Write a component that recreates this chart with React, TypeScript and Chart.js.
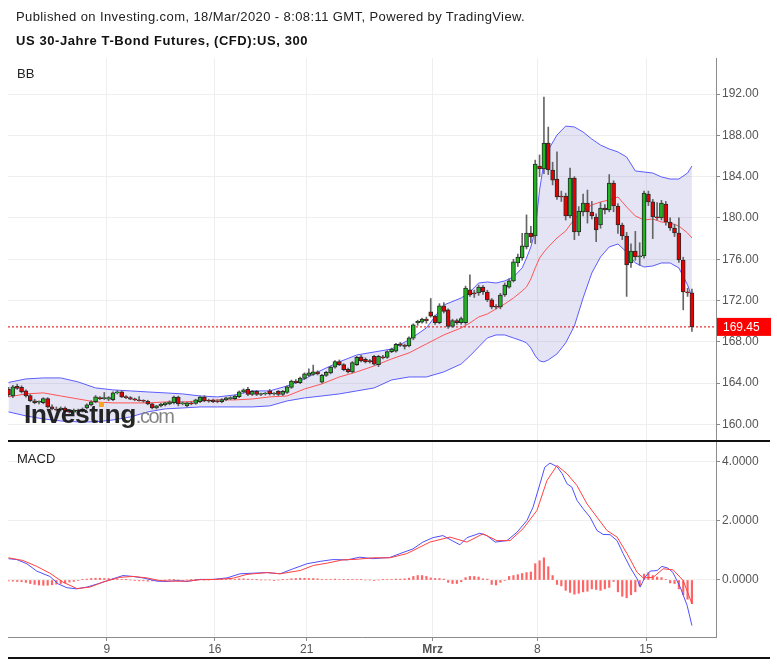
import React, { useEffect, useRef } from "react";
import { Chart, registerables } from "chart.js";

Chart.register(...registerables);

const FONT = '"Liberation Sans", Arial, Helvetica, sans-serif';

// ---- Candles (300-minute bars), index 0..157 ----
const opens = [
  163.44, 162.77, 163.7, 163.6, 163.25, 162.8, 162.3, 162.15, 162.1, 162.5,
  161.7, 161.5, 161.4, 161.6, 161.3, 161.2, 161.4, 161.3, 161.6, 161.9,
  162.2, 162.6, 162.5, 162.45, 162.4, 163.06, 163.15, 162.67, 162.6, 162.45,
  162.38, 162.3, 162.25, 161.99, 161.6, 161.8, 161.9, 162.0, 162.1, 162.65,
  162.0, 161.8, 162.1, 162.05, 162.2, 162.65, 162.35, 162.35, 162.3, 162.2,
  162.4, 162.5, 162.5, 162.7, 163.15, 163.4, 162.9, 163.2, 162.9, 162.95,
  163.25, 162.95, 163.2, 162.9, 163.1, 163.6, 164.2, 164.05, 164.45, 164.75,
  164.85, 165.1, 164.1, 164.75, 165.0, 165.55, 166.1, 165.8, 165.35, 165.1,
  165.8, 166.55, 166.3, 166.2, 166.6, 165.8, 166.55, 166.5, 167.05, 167.1,
  167.8, 167.7, 167.6, 168.35, 169.85, 169.9, 170.2, 170.9, 170.5, 169.85,
  171.5, 171.1, 169.5, 170.05, 169.85, 169.85, 173.05, 172.7, 172.75, 173.3,
  172.83, 172.06, 171.4, 171.38, 172.54, 173.3, 173.9, 175.64, 176.12, 177.2,
  178.54, 178.25, 185.03, 184.74, 187.26, 184.64, 183.77, 182.13, 182.13, 180.19,
  183.87, 178.64, 180.58, 181.45, 180.58, 180.09, 179.32, 180.96, 180.77, 183.38,
  181.16, 179.32, 178.25, 175.64, 176.8, 176.22, 176.32, 182.32, 181.55, 180.09,
  180.0, 181.35, 179.61, 179.03, 178.54, 175.93, 172.83, 172.74,
];
const highs = [
  163.6, 163.8, 163.9, 163.75, 163.35, 162.9, 162.45, 162.3, 162.6, 162.6,
  161.9, 161.7, 161.7, 161.7, 161.4, 161.5, 161.5, 161.6, 162.0, 162.3,
  162.8, 162.7, 163.1, 162.7, 163.15, 163.3, 163.25, 162.8, 162.7, 162.55,
  162.7, 162.4, 162.35, 162.05, 161.85, 162.05, 162.15, 162.3, 162.75, 162.75,
  162.2, 162.15, 162.2, 162.45, 162.75, 162.8, 162.45, 162.45, 162.4, 162.5,
  162.65, 162.7, 162.85, 163.25, 163.45, 163.6, 163.3, 163.3, 163.05, 163.1,
  163.4, 163.1, 163.3, 163.3, 163.75, 164.3, 164.35, 164.6, 165.0, 165.4,
  165.75, 165.2, 164.85, 165.15, 165.65, 166.2, 166.25, 165.9, 165.45, 166.1,
  166.6, 166.7, 166.45, 166.3, 166.7, 166.7, 166.7, 167.15, 167.4, 167.85,
  167.95, 167.8, 168.5, 169.75, 170.1, 170.3, 170.4, 172.2, 170.6, 171.7,
  171.8, 171.2, 170.2, 170.2, 170.4, 173.4, 174.5, 173.0, 173.5, 173.45,
  173.0, 172.2, 171.6, 172.7, 173.7, 174.1, 176.0, 176.5, 178.5, 180.3,
  179.2, 185.6, 186.1, 191.7, 188.8, 185.4, 186.4, 182.6, 182.4, 184.84,
  184.0, 181.1, 182.3, 182.7, 181.6, 180.4, 181.5, 181.3, 184.2, 183.6,
  181.4, 179.5, 178.6, 177.5, 178.7, 177.6, 182.6, 182.6, 181.8, 181.5,
  181.7, 181.6, 180.0, 179.4, 180.0, 176.2, 173.2, 173.1,
];
const lows = [
  162.7, 162.6, 163.4, 163.05, 162.65, 162.2, 162.0, 162.0, 162.0, 161.6,
  161.4, 161.3, 161.3, 161.2, 161.1, 161.1, 161.2, 161.2, 161.5, 161.8,
  162.1, 162.4, 162.4, 162.3, 162.3, 162.95, 162.6, 162.5, 162.4, 162.3,
  162.25, 162.15, 161.9, 161.5, 161.5, 161.7, 161.8, 161.9, 162.0, 161.8,
  161.9, 161.7, 161.9, 161.95, 162.1, 162.2, 162.15, 162.1, 162.1, 162.1,
  162.3, 162.4, 162.4, 162.6, 163.05, 162.8, 162.8, 162.8, 162.8, 162.85,
  162.85, 162.85, 162.8, 162.8, 163.0, 163.5, 163.95, 163.95, 164.35, 164.65,
  164.75, 164.8, 164.0, 164.65, 164.9, 165.45, 165.7, 165.2, 165.0, 165.0,
  165.7, 166.05, 165.95, 165.95, 165.75, 165.6, 166.35, 166.4, 166.95, 167.0,
  167.55, 167.3, 167.5, 168.2, 169.6, 169.8, 169.8, 170.4, 169.7, 169.75,
  170.8, 169.3, 169.4, 169.7, 169.7, 169.7, 172.4, 172.3, 172.5, 172.6,
  171.9, 171.2, 171.2, 171.2, 172.4, 173.2, 173.8, 175.3, 175.9, 177.0,
  177.6, 177.5, 184.0, 184.3, 184.2, 183.2, 181.8, 181.6, 179.8, 180.0,
  177.9, 178.3, 180.2, 179.5, 179.9, 177.7, 179.0, 180.4, 180.6, 180.6,
  178.5, 177.9, 172.4, 175.2, 175.9, 175.4, 176.1, 181.2, 178.0, 179.8,
  179.8, 179.3, 178.8, 178.2, 175.7, 171.1, 172.4, 169.0,
];
const closes = [
  162.86, 163.64, 163.5, 163.15, 162.77, 162.3, 162.1, 162.2, 162.5, 161.7,
  161.5, 161.4, 161.6, 161.3, 161.2, 161.4, 161.3, 161.5, 161.9, 162.2,
  162.67, 162.5, 162.55, 162.6, 163.06, 163.15, 162.67, 162.6, 162.45, 162.38,
  162.3, 162.25, 161.99, 161.6, 161.8, 161.97, 162.1, 162.2, 162.65, 161.99,
  162.1, 162.1, 162.0, 162.38, 162.65, 162.28, 162.25, 162.2, 162.2, 162.4,
  162.57, 162.6, 162.75, 163.15, 163.35, 162.9, 163.2, 162.9, 162.95, 163.0,
  162.95, 163.0, 162.9, 163.2, 163.65, 164.2, 164.05, 164.5, 164.9, 165.0,
  165.1, 164.9, 164.75, 165.05, 165.55, 166.1, 165.8, 165.3, 165.1, 166.0,
  166.5, 166.15, 166.05, 166.05, 165.85, 166.6, 166.45, 167.05, 167.3, 167.75,
  167.65, 167.55, 168.4, 169.65, 170.0, 170.2, 170.05, 170.5, 169.85, 171.5,
  170.95, 169.5, 170.05, 169.85, 170.25, 173.2, 172.55, 172.65, 173.3, 172.85,
  172.06, 171.38, 171.35, 172.54, 173.51, 173.9, 175.74, 176.22, 177.29, 178.54,
  178.16, 185.22, 184.74, 187.26, 184.64, 183.67, 182.03, 182.03, 180.19, 183.87,
  178.64, 180.67, 181.45, 180.58, 180.19, 178.83, 180.96, 180.77, 183.38, 181.16,
  179.32, 178.25, 175.45, 176.8, 176.22, 176.32, 182.42, 181.55, 180.09, 180.0,
  181.45, 179.61, 179.03, 178.54, 175.93, 172.83, 172.74, 169.45,
];

// ---- Bollinger Bands, read at these bar indices ----
const bbIdx = [
  0, 4, 8, 12, 16, 20, 24, 28, 32, 36, 40, 44, 48, 52, 56, 60, 64, 68, 72, 76, 80, 84, 88, 92, 96, 100, 104,
  106, 108, 110, 112, 114, 116, 118,
  119, 120, 121, 122, 123, 124,
  126, 128, 130, 132, 134, 136, 138, 140, 142, 144, 146, 148, 150, 152, 154, 156,
  157,
];
const bbUpper = [
  164.07, 164.41, 164.51, 164.51, 164.12, 163.54, 163.35, 163.25, 163.15, 163.06, 162.96, 162.76, 162.67, 162.86, 163.25, 163.25, 163.73, 164.41, 165.28, 166.06, 166.73, 167.02, 167.31, 168.19, 169.35, 171.57, 172.25,
  172.83, 173.7, 173.8, 173.7, 173.9, 174.28, 175.16,
  176.12, 177.19, 178.83, 182.71, 185.42, 186.58,
  188.03, 188.9, 188.81, 188.32, 187.64, 187.06, 186.68, 186.39, 185.9, 184.55, 184.45, 184.35, 183.97, 183.77, 183.77, 184.35,
  185.03,
];
const bbMiddle = [
  162.67, 162.96, 163.06, 162.76, 162.47, 162.18, 162.09, 162.09, 162.09, 162.18, 162.18, 162.28, 162.38, 162.38, 162.47, 162.67, 162.76, 163.44, 163.93, 164.6, 165.09, 165.67, 166.35, 166.93, 167.8, 168.67, 169.35,
  169.83, 170.41, 170.7, 171.19, 171.67, 172.25, 172.93,
  173.32, 174.09, 175.16, 176.12, 176.7, 177.19,
  178.06, 178.74, 179.9, 180.77, 181.25, 181.55, 181.74, 182.03, 181.06, 180.19, 179.8, 179.9, 179.61, 179.51, 179.22, 178.54,
  178.06,
];
const bbLower = [
  161.22, 160.83, 160.54, 160.34, 160.25, 160.25, 160.44, 160.73, 161.22, 161.51, 161.6, 161.7, 161.7, 161.7, 161.7, 161.8, 162.28, 162.57, 162.76, 162.96, 163.25, 163.54, 164.31, 164.6, 164.6, 165.09, 165.86,
  166.64, 167.51, 168.38, 168.67, 168.67, 168.38, 168.09,
  167.9, 167.41, 166.64, 166.15, 166.06, 166.25,
  166.83, 167.9, 169.54, 172.25, 174.67, 176.22, 177.19, 177.48, 176.7, 175.64, 175.25, 175.35, 175.64, 175.64, 175.16, 173.51,
  172.35,
];

// ---- MACD ----
const macdX = [
  0, 1.9, 4.2, 6.5, 9.5, 11.4, 13.4, 15.7, 18, 21, 24, 26.3, 28.6, 30.9, 34.1,
  36.4, 38.7, 41, 44, 47, 50.2, 53.2, 56.2, 59.4, 62.4, 65.4, 68.6, 71.6, 74.5, 77.8,
  80.7, 83.7, 87.6, 89.9, 92.9, 95.2, 97.5, 99.8, 101.9, 103.7, 105.3, 108.3, 109.9, 111.8, 114.5,
  116.8, 119.1, 120.5, 122.1, 123.2, 124.4, 126, 127.2, 128.3, 129.4, 130.6, 132, 133.6, 135.2, 136.6,
  138.2, 139.8, 141.2, 142.8, 144.4, 145.1, 146.2, 147.4, 149, 150.1, 151.5, 152.6, 154.3, 155.9, 157,
];
const macdLine = [
  0.72, 0.69, 0.55, 0.3, 0.12, -0.13, -0.26, -0.3, -0.24, -0.11, 0.04, 0.15, 0.12, 0.07, -0.04,
  -0.05, -0.02, -0.05, 0.02, 0.02, 0.07, 0.21, 0.23, 0.25, 0.21, 0.38, 0.55, 0.63, 0.69, 0.68,
  0.77, 0.72, 0.76, 0.89, 1.05, 1.28, 1.43, 1.5, 1.33, 1.19, 1.43, 1.58, 1.5, 1.28, 1.33,
  1.61, 2.01, 2.46, 3.25, 3.81, 3.95, 3.83, 3.59, 3.25, 3.14, 2.69, 2.41, 2.12, 1.67, 1.54,
  1.53, 1.33, 0.89, 0.43, 0.04, -0.24, 0.09, 0.3, 0.32, 0.46, 0.4, 0.26, -0.24, -0.86, -1.54,
];
const signalX = [
  0, 3.3, 6.5, 9.5, 12.5, 15.7, 18.7, 21.7, 25.6, 28.6, 31.8, 34.8, 37.8, 41, 44,
  47.9, 51.6, 54.8, 59.4, 62.4, 67, 70, 73.2, 76.8, 80.1, 83.7, 87.6, 91.5, 96.8, 101.4,
  105.3, 109, 112.2, 115.2, 118.2, 121.4, 123.7, 126, 128.3, 130.6, 132.9, 135.2, 137.5, 139.8, 142.1,
  144.4, 145.8, 148.1, 150.4, 152.7, 155, 157,
];
const signalLine = [
  0.75, 0.66, 0.46, 0.23, -0.07, -0.29, -0.24, -0.07, 0.09, 0.12, 0.07, -0.02, -0.04, -0.04, 0.01,
  0.02, 0.06, 0.19, 0.25, 0.21, 0.32, 0.49, 0.57, 0.68, 0.7, 0.75, 0.75, 0.89, 1.28, 1.45,
  1.28, 1.56, 1.33, 1.33, 1.73, 2.35, 3.36, 3.87, 3.59, 3.19, 2.57, 2.12, 1.67, 1.45, 0.89,
  0.26, 0.07, 0.09, 0.38, 0.34, -0.02, -0.8,
];
const histogram = [
  -0.03, -0.04, -0.05, -0.06, -0.08,
  -0.12, -0.15, -0.17, -0.18, -0.18, -0.16,
  -0.14, -0.12, -0.1, -0.07, -0.05,
  -0.02, 0.01,
  0.03, 0.05, 0.06, 0.06, 0.05, 0.05, 0.04, 0.03, 0.02,
  0.01, 0, -0.01,
  -0.03, -0.03, -0.04, -0.03, -0.02,
  -0.01, 0, 0.01, 0.01, 0, -0.01, 0, 0.01, 0.01, 0.01, 0, 0, 0.01, 0.01, 0.02, 0.02, 0.02, 0.02,
  0.04, 0.04, 0.03, 0.02,
  0.01, 0, 0, 0, -0.01, 0, 0.01, 0.02,
  0.04, 0.05, 0.06, 0.06, 0.05, 0.05, 0.04,
  0.02, 0.02, 0.02, 0.03, 0.02, 0.01, 0.01, 0.02, 0.02,
  0.01, 0, 0, -0.01, 0, 0.01,
  0.02, 0.02, 0.03, 0.03, 0.04, 0.06,
  0.12, 0.15, 0.15, 0.12,
  0.07, 0.05, 0.05, 0.03,
  -0.08, -0.12, -0.12, -0.06,
  0.08, 0.12, 0.12, 0.1,
  0.04, 0.03,
  -0.15, -0.17,
  -0.08, -0.02,
  0.12, 0.15, 0.18, 0.22, 0.25, 0.27,
  0.55, 0.65, 0.75, 0.45, 0.15,
  -0.15, -0.2, -0.35, -0.42, -0.48,
  -0.45, -0.4, -0.38, -0.3, -0.32, -0.35, -0.3, -0.25,
  -0.05,
  -0.4, -0.55, -0.6, -0.5, -0.4,
  -0.2,
  0.2, 0.25, 0.15,
  0.1, 0.08, 0.02,
  -0.1, -0.12,
  -0.3, -0.5, -0.65, -0.8,
];

// ---- Axes ----
const xTickValues = [22.6, 47.4, 68.5, 97.45, 121.5, 146.45];
const xTickLabels = ["9", "16", "21", "Mrz", "8", "15"];
const priceTicks = [160, 164, 168, 172, 176, 180, 184, 188, 192];
const macdTicks = [0, 2, 4];

const X_MIN = -0.115;
const X_MAX = 162.53;
const PRICE_MIN = 158.4;
const PRICE_MAX = 195.49;
const MACD_MIN = -1.926;
const MACD_MAX = 4.662;

const GRID = "#efefef";
const AXIS = "#8c8c8c";
const LABEL = "#555555";

export default function App() {
  const mainRef = useRef<HTMLCanvasElement>(null);
  const macdRef = useRef<HTMLCanvasElement>(null);

  useEffect(() => {
    Chart.defaults.font.family = FONT;
    const N = closes.length;
    const last = closes[N - 1];

    const xScale = (labels: boolean): any => ({
      type: "linear",
      min: X_MIN,
      max: X_MAX,
      offset: false,
      afterBuildTicks: (s: any) => {
        s.ticks = xTickValues.map((v) => ({ value: v }));
      },
      ticks: {
        display: labels,
        autoSkip: false,
        maxRotation: 0,
        padding: 1,
        color: LABEL,
        callback: (v: any) => {
          const k = xTickValues.indexOf(v);
          return k >= 0 ? xTickLabels[k] : "";
        },
        font: (c: any) => ({
          family: FONT,
          size: 12,
          weight: c.tick && c.tick.value === 97.45 ? "bold" : "normal",
        }),
      },
      grid: { offset: false, color: GRID, drawTicks: labels, tickLength: 4, tickColor: AXIS },
      border: { display: labels, color: AXIS },
      afterFit: (s: any) => {
        s.height = labels ? 27 : 0;
        s.paddingLeft = 0;
        s.paddingRight = 0;
      },
    });

    const yScale = (min: number, max: number, ticks: number[], digits: number): any => ({
      position: "right",
      min,
      max,
      afterBuildTicks: (s: any) => {
        s.ticks = ticks.map((v) => ({ value: v }));
      },
      ticks: {
        color: LABEL,
        padding: 2,
        font: { family: FONT, size: 12 },
        callback: (v: any) => Number(v).toFixed(digits),
      },
      grid: { color: GRID, drawTicks: true, tickLength: 4, tickColor: AXIS },
      border: { color: AXIS, width: 1 },
      afterFit: (s: any) => {
        s.width = 61;
        s.paddingTop = 0;
        s.paddingBottom = 0;
      },
    });

    const priceBox = {
      id: "priceBox",
      afterDraw(chart: any) {
        const { ctx, chartArea, scales } = chart;
        const y = scales.y.getPixelForValue(last);
        ctx.save();
        ctx.fillStyle = "#ff0000";
        ctx.fillRect(chartArea.right + 1, y - 9, 54, 18);
        ctx.fillStyle = "#ffffff";
        ctx.font = "12px " + FONT;
        ctx.textBaseline = "middle";
        ctx.textAlign = "left";
        ctx.fillText(last.toFixed(2), chartArea.right + 7, y + 0.5);
        ctx.restore();
      },
    };

    const idx = closes.map((_, i) => i);
    const bodyColors = idx.map((i) => (closes[i] >= opens[i] ? "#22b322" : "#e60000"));

    const main = new Chart(mainRef.current as HTMLCanvasElement, {
      type: "bar",
      data: {
        datasets: [
          {
            type: "line",
            data: bbIdx.map((x, i) => ({ x, y: bbUpper[i] })),
            borderColor: "#5c5cff",
            borderWidth: 1,
            pointRadius: 0,
            fill: false,
            order: 5,
          } as any,
          {
            type: "line",
            data: bbIdx.map((x, i) => ({ x, y: bbLower[i] })),
            borderColor: "#5c5cff",
            borderWidth: 1,
            pointRadius: 0,
            fill: "-1",
            backgroundColor: "rgba(96,96,190,0.17)",
            order: 5,
          } as any,
          {
            type: "line",
            data: bbIdx.map((x, i) => ({ x, y: bbMiddle[i] })),
            borderColor: "#ff5555",
            borderWidth: 1,
            pointRadius: 0,
            fill: false,
            order: 4,
          } as any,
          {
            type: "line",
            data: [
              { x: X_MIN, y: last },
              { x: X_MAX, y: last },
            ],
            borderColor: "#e00000",
            borderWidth: 1,
            borderDash: [2, 2],
            pointRadius: 0,
            fill: false,
            order: 3,
          } as any,
          {
            type: "bar",
            data: idx.map((i) => ({ x: i, y: [lows[i], highs[i]] })),
            backgroundColor: "#666666",
            barThickness: 1,
            grouped: false,
            order: 2,
          } as any,
          {
            type: "bar",
            data: idx.map((i) => ({ x: i, y: [opens[i], closes[i]] })),
            backgroundColor: bodyColors,
            borderColor: "#2a2a2a",
            borderWidth: 1,
            borderSkipped: false,
            barThickness: 4,
            minBarLength: 1,
            grouped: false,
            order: 1,
          } as any,
        ],
      },
      options: {
        responsive: false,
        animation: false,
        layout: { padding: { top: 58, left: 8, right: 0, bottom: 0 } },
        plugins: {
          legend: { display: false },
          tooltip: { enabled: false },
          filler: { drawTime: "beforeDatasetsDraw" },
        } as any,
        scales: {
          x: xScale(false),
          y: yScale(PRICE_MIN, PRICE_MAX, priceTicks, 2),
        },
      },
      plugins: [priceBox],
    });

    const macd = new Chart(macdRef.current as HTMLCanvasElement, {
      type: "bar",
      data: {
        datasets: [
          {
            type: "bar",
            data: histogram.map((v, i) => ({ x: i, y: v })),
            backgroundColor: "rgba(255,60,60,0.8)",
            barThickness: 1.5,
            grouped: false,
            order: 3,
          } as any,
          {
            type: "line",
            data: macdX.map((x, i) => ({ x, y: macdLine[i] })),
            borderColor: "#4f4fff",
            borderWidth: 1,
            pointRadius: 0,
            fill: false,
            order: 2,
          } as any,
          {
            type: "line",
            data: signalX.map((x, i) => ({ x, y: signalLine[i] })),
            borderColor: "#ff4040",
            borderWidth: 1,
            pointRadius: 0,
            fill: false,
            order: 1,
          } as any,
        ],
      },
      options: {
        responsive: false,
        animation: false,
        layout: { padding: { top: 1, left: 8, right: 0, bottom: 0 } },
        plugins: { legend: { display: false }, tooltip: { enabled: false } },
        scales: {
          x: xScale(true),
          y: yScale(MACD_MIN, MACD_MAX, macdTicks, 4),
        },
      },
    });

    return () => {
      main.destroy();
      macd.destroy();
    };
  }, []);

  return (
    <div
      style={{
        position: "absolute",
        left: 0,
        top: 0,
        width: 777,
        height: 664,
        background: "#ffffff",
        overflow: "hidden",
        fontFamily: FONT,
      }}
    >
      <canvas ref={mainRef} width={777} height={441} style={{ position: "absolute", left: 0, top: 0 }} />
      <canvas ref={macdRef} width={777} height={223} style={{ position: "absolute", left: 0, top: 441 }} />
      <div
        style={{
          position: "absolute",
          left: 16,
          top: 9,
          fontSize: 13,
          lineHeight: "16px",
          color: "#222",
          whiteSpace: "nowrap",
          letterSpacing: 0.4,
        }}
      >
        Published on Investing.com, 18/Mar/2020 - 8:08:11 GMT, Powered by TradingView.
      </div>
      <div
        style={{
          position: "absolute",
          left: 16,
          top: 33,
          fontSize: 13,
          lineHeight: "16px",
          fontWeight: "bold",
          color: "#111",
          whiteSpace: "nowrap",
          letterSpacing: 0.57,
        }}
      >
        US 30-Jahre T-Bond Futures, (CFD):US, 300
      </div>
      <div style={{ position: "absolute", left: 17, top: 66, fontSize: 13, lineHeight: "16px", color: "#222" }}>BB</div>
      <div style={{ position: "absolute", left: 17, top: 451, fontSize: 13, lineHeight: "16px", color: "#222" }}>
        MACD
      </div>
      <div style={{ position: "absolute", left: 8, top: 440, width: 762, height: 2, background: "#111" }} />
      <div style={{ position: "absolute", left: 8, top: 657, width: 762, height: 2, background: "#111" }} />
      <div
        style={{
          position: "absolute",
          left: 24,
          top: 399,
          whiteSpace: "nowrap",
          lineHeight: "30px",
          color: "#141414",
          opacity: 0.92,
        }}
      >
        <span style={{ fontSize: 26.5, fontWeight: "bold", letterSpacing: -0.5 }}>Investing</span>
        <span style={{ fontSize: 20, color: "#7a7a7a", letterSpacing: -1.4 }}>.com</span>
      </div>
      <div
        style={{
          position: "absolute",
          left: 98.5,
          top: 402,
          width: 5,
          height: 5,
          borderRadius: 1,
          background: "#f5a623",
        }}
      />
    </div>
  );
}
